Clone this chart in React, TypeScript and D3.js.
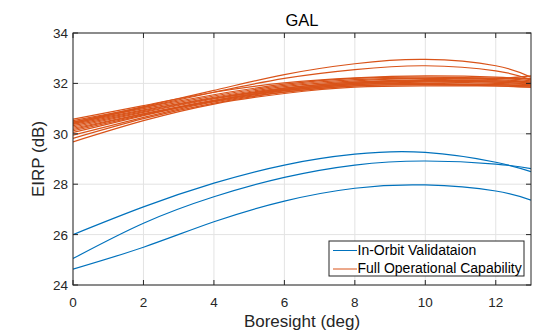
import React from "react";
import * as d3 from "d3";

const xs = [0, 2, 4, 6, 8, 10, 12, 13];
const xTicks = [0, 2, 4, 6, 8, 10, 12];
const yTicks = [24, 26, 28, 30, 32, 34];

const iovSeries = [
  [26.0, 27.1, 28.04, 28.76, 29.19, 29.26, 28.87, 28.5],
  [25.05, 26.45, 27.5, 28.27, 28.76, 28.92, 28.8, 28.62],
  [24.63, 25.5, 26.51, 27.33, 27.84, 27.97, 27.73, 27.37],
];

const focSeries = [
  [30.45, 31.08, 31.72, 32.35, 32.78, 32.95, 32.7, 32.25],
  [30.4, 31.05, 31.65, 32.2, 32.55, 32.7, 32.5, 32.15],
  [30.58, 31.12, 31.65, 32.02, 32.22, 32.3, 32.25, 32.15],
  [30.52, 31.05, 31.55, 31.97, 32.2, 32.25, 32.2, 32.1],
  [30.47, 31.0, 31.5, 31.92, 32.15, 32.2, 32.15, 32.05],
  [30.42, 30.95, 31.45, 31.87, 32.1, 32.2, 32.2, 32.2],
  [30.37, 30.92, 31.42, 31.82, 32.05, 32.15, 32.2, 32.3],
  [30.32, 30.88, 31.4, 31.77, 32.0, 32.1, 32.1, 32.05],
  [30.27, 30.85, 31.38, 31.8, 32.05, 32.1, 32.05, 31.95],
  [30.22, 30.8, 31.33, 31.72, 31.95, 32.05, 32.0, 31.95],
  [30.12, 30.75, 31.3, 31.7, 31.95, 32.0, 31.95, 31.9],
  [30.05, 30.72, 31.32, 31.75, 32.0, 32.1, 32.1, 32.0],
  [29.95, 30.65, 31.27, 31.65, 31.9, 31.95, 31.95, 31.9],
  [29.82, 30.6, 31.22, 31.65, 31.9, 31.95, 31.9, 31.85],
  [29.68, 30.52, 31.18, 31.6, 31.85, 31.9, 31.9, 31.85],
  [30.17, 30.78, 31.32, 31.75, 32.0, 32.1, 32.05, 32.0],
];

const legendLabels = ["In-Orbit Validataion", "Full Operational Capability"];
const BLUE = "#0072BD";
const ORANGE = "#D95319";

export default function App() {
  const W = 542, H = 333;
  const L = 73, R = 531, T = 33, B = 285;
  const x = d3.scaleLinear().domain([0, 13]).range([L, R]);
  const y = d3.scaleLinear().domain([24, 34]).range([B, T]);
  const line = d3
    .line<number>()
    .x((_, i) => x(xs[i]))
    .y((d) => y(d))
    .curve(d3.curveNatural);
  const font = "'Liberation Sans', Arial, Helvetica, sans-serif";
  const axisColor = "#262626";
  const tickLen = 5;

  return (
    <svg width={W} height={H} style={{ position: "absolute", left: 0, top: 0 }} fontFamily={font}>
      <rect x={0} y={0} width={W} height={H} fill="#fff" />
      {xTicks.map((t) => (
        <line key={"gx" + t} x1={x(t)} x2={x(t)} y1={T} y2={B} stroke="#e3e3e3" strokeWidth={1} />
      ))}
      {yTicks.map((t) => (
        <line key={"gy" + t} x1={L} x2={R} y1={y(t)} y2={y(t)} stroke="#e3e3e3" strokeWidth={1} />
      ))}
      <defs>
        <clipPath id="clip">
          <rect x={L} y={T} width={R - L} height={B - T} />
        </clipPath>
      </defs>
      <g clipPath="url(#clip)">
        {focSeries.map((s, i) => (
          <path key={"f" + i} d={line(s) || ""} fill="none" stroke={ORANGE} strokeWidth={1.2} />
        ))}
        {iovSeries.map((s, i) => (
          <path key={"b" + i} d={line(s) || ""} fill="none" stroke={BLUE} strokeWidth={1.2} />
        ))}
      </g>
      <rect x={L} y={T} width={R - L} height={B - T} fill="none" stroke={axisColor} strokeWidth={1} />
      {xTicks.map((t) => (
        <g key={"tx" + t}>
          <line x1={x(t)} x2={x(t)} y1={B} y2={B - tickLen} stroke={axisColor} />
          <line x1={x(t)} x2={x(t)} y1={T} y2={T + tickLen} stroke={axisColor} />
          <text x={x(t)} y={306.5} textAnchor="middle" fontSize={13.5} fill={axisColor}>
            {t}
          </text>
        </g>
      ))}
      {yTicks.map((t) => (
        <g key={"ty" + t}>
          <line x1={L} x2={L + tickLen} y1={y(t)} y2={y(t)} stroke={axisColor} />
          <line x1={R} x2={R - tickLen} y1={y(t)} y2={y(t)} stroke={axisColor} />
          <text x={L - 5} y={y(t) + 5} textAnchor="end" fontSize={13.5} fill={axisColor}>
            {t}
          </text>
        </g>
      ))}
      <text x={(L + R) / 2} y={26} textAnchor="middle" fontSize={16.5} fill="#000">
        GAL
      </text>
      <text x={(L + R) / 2} y={327} textAnchor="middle" fontSize={17} fill={axisColor}>
        Boresight (deg)
      </text>
      <text
        transform={`translate(43.5, ${(T + B) / 2}) rotate(-90)`}
        textAnchor="middle"
        fontSize={17}
        fill={axisColor}
      >
        EIRP (dB)
      </text>
      <g>
        <rect x={329} y={241} width={195} height={35} fill="#fff" stroke={axisColor} strokeWidth={1} />
        {legendLabels.map((lab, i) => (
          <g key={lab}>
            <line x1={333} x2={357} y1={250.5 + i * 18.5} y2={250.5 + i * 18.5} stroke={i === 0 ? BLUE : ORANGE} strokeWidth={1} />
            <text x={357.5} y={255.3 + i * 17.5} fontSize={14} fill="#000">
              {lab}
            </text>
          </g>
        ))}
      </g>
    </svg>
  );
}
